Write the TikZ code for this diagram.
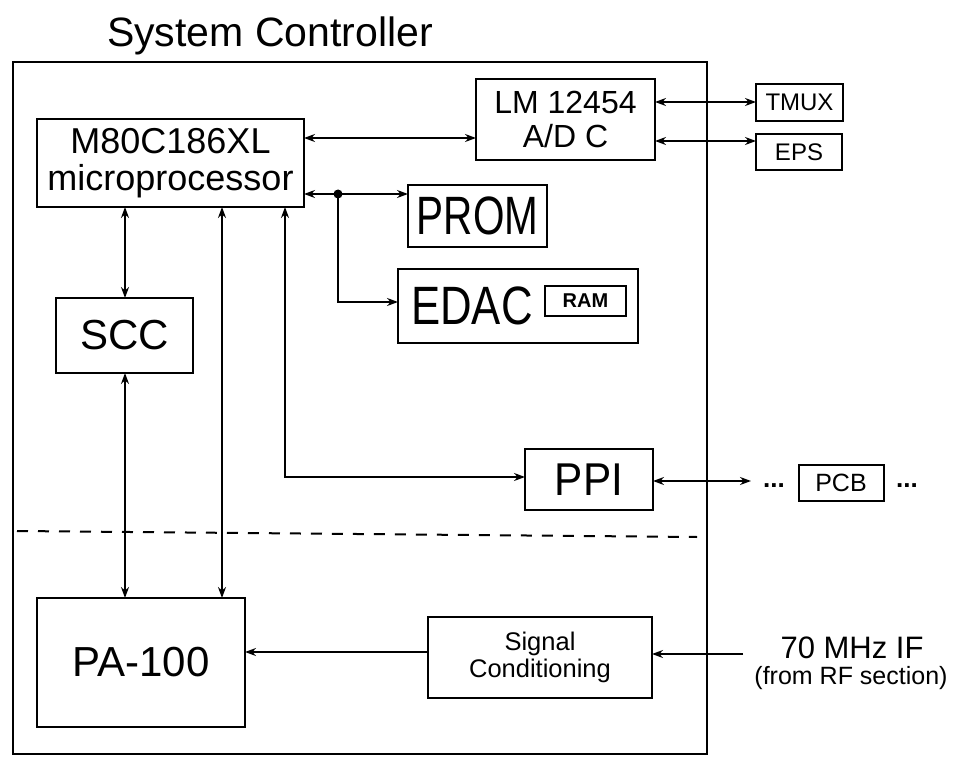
\documentclass[tikz,border=0pt]{standalone}
\usepackage{graphicx}
\usepackage{fontspec}
\setmainfont{Liberation Sans}
\usetikzlibrary{arrows.meta,calc}
\newcommand{\fsz}[1]{\fontsize{#1}{#1}\selectfont}
\begin{document}
\begin{tikzpicture}[x=1pt,y=-1pt,
  box/.style={draw, line width=2pt, inner sep=0pt, outer sep=0pt, align=center},
  conn/.style={line width=1.8pt},
  both/.style={conn, {Stealth[length=11pt,width=8pt]}-{Stealth[length=11pt,width=8pt]}},
  toarr/.style={conn, -{Stealth[length=11pt,width=8pt]}},
  dashsep/.style={line width=2pt, dash pattern=on 11pt off 10pt},
  lbl/.style={inner sep=0pt, align=center}]
\useasboundingbox (0,0) rectangle (953,759);

% title and outer frame
\node[lbl] (title) at (270,36) {\fsz{41}System Controller};
\node[box, minimum width=694, minimum height=692, anchor=north west] (outer) at (13,62) {};

% blocks
\node[box, minimum width=267, minimum height=88, font=\fontsize{36}{37}\selectfont] (micro) at (170.5,163)
  {M80C186XL\\microprocessor};
\node[box, minimum width=179, minimum height=81, font=\fontsize{32}{34}\selectfont] (lm) at (565.5,119.5)
  {LM 12454\\A/D C};
\node[box, minimum width=87, minimum height=37] (tmux) at (799.5,102.5) {\fsz{24}TMUX};
\node[box, minimum width=86, minimum height=36] (eps) at (799,152) {\fsz{24}EPS};
\node[box, minimum width=139, minimum height=62] (prom) at (477.5,216)
  {\scalebox{0.75}[1]{\fsz{54}PROM}};
\node[box, minimum width=240, minimum height=74] (edac) at (518,306) {};
\node[lbl] (edactxt) at (472,306) {\scalebox{0.81}[1]{\fsz{54}EDAC}};
\node[box, minimum width=81, minimum height=30] (ram) at (585.5,301) {\fsz{20}\bfseries RAM};
\node[box, minimum width=137, minimum height=75] (scc) at (124.5,335.5) {\fsz{42}SCC};
\node[box, minimum width=128, minimum height=61] (ppi) at (589,479.5)
  {\scalebox{0.92}[1]{\fsz{46}PPI}};
\node[box, minimum width=85, minimum height=36] (pcb) at (841,483) {\fsz{25}PCB};
\node[lbl] (dots1) at (774,486) {\fsz{26}\bfseries ...};
\node[lbl] (dots2) at (907,486) {\fsz{26}\bfseries ...};
\node[box, minimum width=208, minimum height=129] (pa) at (141,662.5) {\fsz{42}PA-100};
\node[box, minimum width=224, minimum height=81, font=\fontsize{25.5}{27}\selectfont] (sig) at (540,657.5)
  {Signal\\Conditioning};
\node[lbl] (if1) at (852,648) {\fsz{31}70 MHz IF};
\node[lbl] (if2) at (851,678) {\fsz{25}(from RF section)};

% helper coordinates
\coordinate (rowLM) at (0,138);
\coordinate (rowT) at (0,102);
\coordinate (rowE) at (0,141);
\coordinate (rowP) at (0,194);
\coordinate (rowED) at (0,302);
\coordinate (rowPPI) at (0,477);
\coordinate (rowPCB) at (0,481);
\coordinate (rowSig) at (0,652);
\coordinate (rowIF) at (0,654);
\coordinate (colA) at (125,0);
\coordinate (colB) at (222,0);
\coordinate (colC) at (285,0);
\coordinate (bus) at (338,194);
\coordinate (pcbtip) at (751,481);
\coordinate (ifend) at (743,654);
\coordinate (dashL) at (17,531);
\coordinate (dashR) at (697,537);

% connectors
\draw[both] (micro.east |- rowLM) -- (lm.west |- rowLM);
\draw[both] (lm.east |- rowT) -- (tmux.west |- rowT);
\draw[both] (lm.east |- rowE) -- (eps.west |- rowE);
\draw[both] (micro.east |- rowP) -- (prom.west |- rowP);
\fill (bus) circle (4.5);
\draw[toarr] (bus) |- (edac.west |- rowED);
\draw[both] (micro.south -| colA) -- (scc.north -| colA);
\draw[both] (scc.south -| colA) -- (pa.north -| colA);
\draw[both] (micro.south -| colB) -- (pa.north -| colB);
\draw[both] (micro.south -| colC) |- (ppi.west |- rowPPI);
\draw[both] (ppi.east |- rowPCB) -- (pcbtip);
\draw[dashsep] (dashL) -- (dashR);
\draw[toarr] (sig.west |- rowSig) -- (pa.east |- rowSig);
\draw[toarr] (ifend) -- (sig.east |- rowIF);
\end{tikzpicture}
\end{document}
